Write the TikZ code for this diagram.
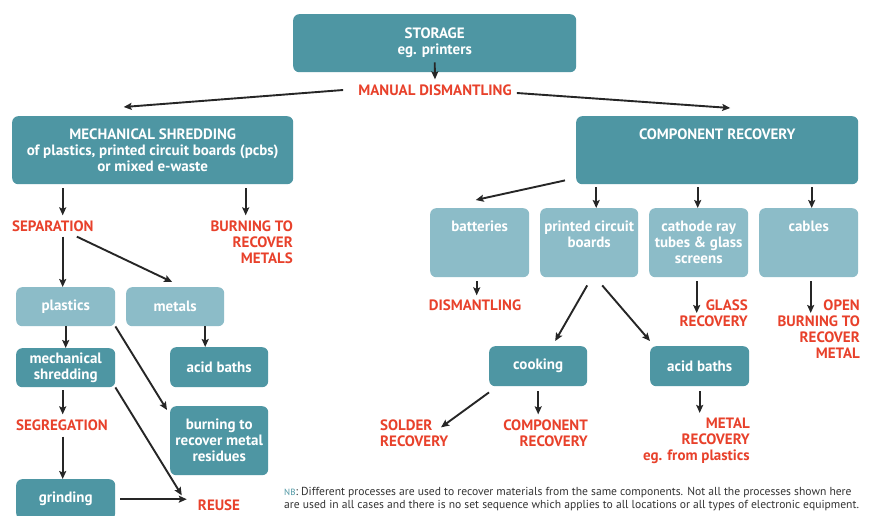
\documentclass[tikz,border=0pt]{standalone}
\usepackage{fontspec}
\setmainfont{PT Sans}
\usetikzlibrary{positioning,arrows.meta}
\definecolor{tealdark}{RGB}{78,150,163}
\definecolor{teallight}{RGB}{140,188,200}
\definecolor{redtext}{RGB}{232,65,43}
\newcommand{\boxfont}{\bfseries\fontsize{15}{16}\selectfont}

\begin{document}
\begin{tikzpicture}[x=1pt, y=-1pt,
        darkbox/.style={rectangle, rounded corners=6pt, fill=tealdark, text=white, font=\boxfont, align=center, inner sep=0pt, anchor=north west},
        lightbox/.style={darkbox, fill=teallight},
        toptext/.style={label={[text=white, font=\boxfont, align=center, inner sep=0pt, anchor=north, yshift=-13pt]north:{#1}}},
        redlabel/.style={text=redtext, font=\boxfont, inner sep=0pt},
        flow/.style={-{Stealth[length=8pt, width=7pt, inset=1.5pt]}, line width=1.9pt, black!85},
]
        \useasboundingbox[fill=white] (0,0) rectangle (881,515);

        % top of the chart
        \node[darkbox, minimum width=283pt, minimum height=58pt] (storage) at (293,14) {STORAGE\\eg. printers};
        \node[redlabel] (manual) at (435,90) {MANUAL DISMANTLING};
        \node[darkbox, minimum width=281pt, minimum height=68pt] (mechshred) at (12,116) {MECHANICAL SHREDDING\\of plastics, printed circuit boards (pcbs)\\or mixed e-waste};
        \node[darkbox, minimum width=282pt, minimum height=68pt, toptext={COMPONENT RECOVERY}] (comprec) at (576,116) {};

        % left branch
        \node[redlabel, anchor=west] (separation) at (12,226) {SEPARATION};
        \node[redlabel, anchor=east, align=right] (burnmetals) at (293,242) {BURNING TO\\RECOVER\\METALS};
        \node[lightbox, minimum width=99pt, minimum height=39pt] (plastics) at (16,287) {plastics};
        \node[lightbox, minimum width=98pt, minimum height=39pt] (metals) at (126,287) {metals};
        \node[darkbox, minimum width=99pt, minimum height=39pt] (mechshred2) at (16,348) {mechanical\\shredding};
        \node[darkbox, minimum width=98pt, minimum height=40pt] (acidL) at (170,347) {acid baths};
        \node[darkbox, minimum width=98pt, minimum height=69pt] (burnres) at (170,406) {burning to\\recover metal\\residues};
        \node[redlabel, anchor=west] (segregation) at (16,425) {SEGREGATION};
        \node[darkbox, minimum width=99pt, minimum height=40pt] (grinding) at (16,479) {grinding};
        \node[redlabel] (reuse) at (219,505) {REUSE};

        % right branch
        \node[lightbox, minimum width=99pt, minimum height=69pt, toptext={batteries}] (batteries) at (430,208) {};
        \node[lightbox, minimum width=98pt, minimum height=69pt, toptext={printed circuit\\boards}] (pcb) at (540,208) {};
        \node[lightbox, minimum width=99pt, minimum height=69pt, toptext={cathode ray\\tubes \& glass\\screens}] (crt) at (649,208) {};
        \node[lightbox, minimum width=99pt, minimum height=69pt, toptext={cables}] (cables) at (759,208) {};
        \node[redlabel] (dismantling) at (475,305) {DISMANTLING};
        \node[redlabel, anchor=east, align=right] (glass) at (748,313) {GLASS\\RECOVERY};
        \node[redlabel, anchor=east, align=right] (openburn) at (860,329) {OPEN\\BURNING TO\\RECOVER\\METAL};
        \node[darkbox, minimum width=98pt, minimum height=40pt] (cooking) at (489,346) {cooking};
        \node[darkbox, minimum width=99pt, minimum height=40pt] (acidR) at (650,346) {acid baths};
        \node[redlabel, anchor=west, align=left] (solder) at (380,433) {SOLDER\\RECOVERY};
        \node[redlabel, anchor=east, align=right] (comprec2) at (588,433) {COMPONENT\\RECOVERY};
        \node[redlabel, anchor=east, align=right] (metalrec) at (750,441) {METAL\\RECOVERY\\eg. from plastics};

        % note
        \node[anchor=north west, inner sep=0pt, align=left, font=\fontsize{11.6}{13}\selectfont, text=black!80] (note) at (284,487)
                {{\color{tealdark}\fontsize{9}{13}\selectfont NB}: Different processes are used to recover materials from the same components. Not all the processes shown here\\are used in all cases and there is no set sequence which applies to all locations or all types of electronic equipment.};

        \draw[flow] ([yshift=10pt]storage.south) -- ([yshift=5pt]manual.north);
        \draw[flow] ([xshift=-15pt]manual.west) -- ([xshift=-29pt, yshift=9pt]mechshred.north);
        \draw[flow] ([xshift=5pt, yshift=-3pt]manual.east) -- ([xshift=13pt, yshift=8pt]comprec.north);

        \draw[flow] ([xshift=-3pt, yshift=-4pt]mechshred.south -| plastics.north) -- ([xshift=-3pt, yshift=5pt]plastics.north |- separation.north);
        \draw[flow] ([xshift=-6pt, yshift=-4pt]mechshred.south -| burnmetals.north) -- ([xshift=-6pt, yshift=5pt]burnmetals.north);
        \draw[flow] ([xshift=-3pt, yshift=-5pt]separation.south -| plastics.north) -- ([xshift=-3pt]plastics.north);
        \draw[flow] ([xshift=24pt, yshift=-5pt]separation.south) -- ([xshift=-3pt, yshift=5pt]metals.north);
        \draw[flow] (plastics.south) -- (mechshred2.north);
        \draw[flow] ([xshift=30pt]metals.south) -- ([xshift=30pt]metals.south |- acidL.north);
        \draw[flow] (plastics.south east) -- ([xshift=-3pt, yshift=-4pt]burnres.north west);
        \draw[flow] ([xshift=-3pt, yshift=-3pt]mechshred2.south) -- ([xshift=-3pt, yshift=5pt]mechshred2.south |- segregation.north);
        \draw[flow] (mechshred2.south east) -- ([xshift=-16pt, yshift=4pt]reuse.north west);
        \draw[flow] ([xshift=-3pt, yshift=-6pt]segregation.south -| grinding.north) -- ([xshift=-3pt]grinding.north);
        \draw[flow] ([xshift=5pt]grinding.east) -- ([xshift=-11pt]reuse.west |- grinding.east);

        \draw[flow] ([xshift=-11pt, yshift=4pt]comprec.south west) -- ([xshift=-4pt, yshift=8pt]batteries.north);
        \foreach \part/\dx in {pcb/7, crt/-1, cables/3}
                \draw[flow] ([xshift=\dx pt, yshift=-3pt]comprec.south -| \part.north) -- ([xshift=\dx pt]\part.north);
        \draw[flow] ([xshift=-3pt, yshift=-4pt]batteries.south) -- ([xshift=-3pt, yshift=4pt]batteries.south |- dismantling.north);
        \draw[flow] ([xshift=-2pt, yshift=-8pt]pcb.south) -- ([xshift=17pt, yshift=5pt]cooking.north);
        \draw[flow] ([xshift=13pt, yshift=-8pt]pcb.south) -- ([yshift=5pt]acidR.north west);
        \draw[flow] ([xshift=-2pt, yshift=-4pt]crt.south) -- ([xshift=-2pt]crt.south |- glass.center);
        \draw[flow] ([xshift=2pt, yshift=-4pt]cables.south) -- ([xshift=2pt]cables.south |- glass.center);
        \draw[flow] ([yshift=-6pt]cooking.south west) -- ([xshift=61pt, yshift=-8pt]solder.north west);
        \draw[flow] ([yshift=-5pt]cooking.south) -- ([yshift=5pt]cooking.south |- comprec2.north);
        \draw[flow] ([yshift=-5pt]acidR.south) -- ([yshift=5pt]acidR.south |- metalrec.north);
\end{tikzpicture}
\end{document}
